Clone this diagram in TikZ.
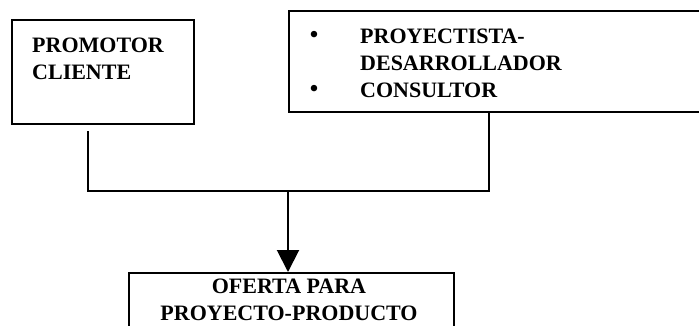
\documentclass[tikz,border=0pt]{standalone}
\usepackage{fontspec}
\setmainfont{Liberation Serif}
\usetikzlibrary{arrows.meta}
\begin{document}
\begin{tikzpicture}[x=1pt,y=-1pt,
		box/.style={draw,line width=2pt,inner sep=0,anchor=north west},
		lbl/.style={inner sep=0,font=\fontsize{22}{27}\selectfont\bfseries,align=left},
		dot/.style={inner sep=0,font=\fontsize{27}{27}\selectfont},
		wire/.style={line width=2pt}]
		\clip (0,0) rectangle (699,325);
		\node[box,minimum width=182,minimum height=104] (promotor) at (11,19) {};
		\node[box,minimum width=430,minimum height=101] (proyectista) at (288,10) {};
		\node[box,minimum width=325,minimum height=80] (oferta) at (128,272) {};
		% base = baseline of the last line
		\node[lbl,anchor=base west] (promotortxt) at (32,79) {PROMOTOR\\CLIENTE};
		\node[dot] (bullet1) at (314,37) {\textbullet};
		\node[lbl,anchor=base west] (item1) at (360,70) {PROYECTISTA-\\DESARROLLADOR};
		\node[dot] (bullet2) at (314,91) {\textbullet};
		\node[lbl,anchor=base west] (item2) at (360,97) {CONSULTOR};
		\node[lbl,align=center,anchor=base] (ofertatxt) at (289,320) {OFERTA PARA\\PROYECTO-PRODUCTO};
		\coordinate (J1) at (88,191);
		\coordinate (J2) at (288,191);
		\coordinate (J3) at (489,191);
		\draw[wire] ([yshift=-6pt]J1 |- promotor.south) -- (J1) -- (J3) -- (J3 |- proyectista.south);
		\draw[wire,-{Triangle[width=22pt,length=22pt]}] (J2) -- (J2 |- oferta.north);
	\end{tikzpicture}
\end{document}
